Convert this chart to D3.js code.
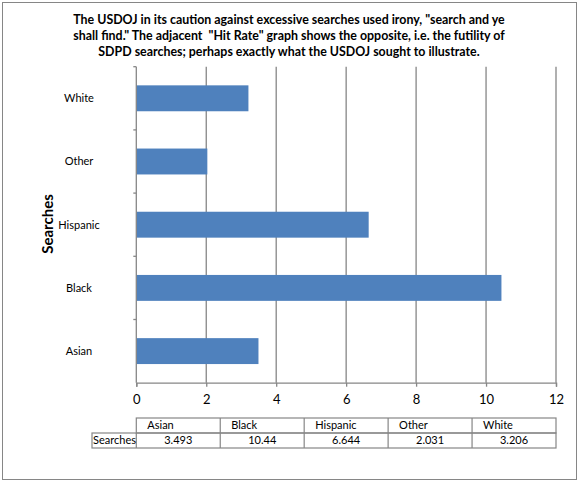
<!DOCTYPE html>
<meta charset="utf-8">
<head>
    <style>
        body { margin: 0; background: #fff; }
        text { font-family: Lato, "Open Sans", sans-serif; fill: #000; }
        .bar { fill: #4f81bd; }
        .title { white-space: pre; }
    </style>
    <script src="https://d3js.org/d3.v7.min.js"></script>
</head>
<div id="my_dataviz"></div>

<script>

// chart data
var categories = ["Asian", "Black", "Hispanic", "Other", "White"];
var searches = [3.493, 10.44, 6.644, 2.031, 3.206];
var seriesName = "Searches";
var xTicks = [0, 2, 4, 6, 8, 10, 12];
var titleLines = [
    "The USDOJ in its caution against excessive searches used irony, \"search and ye",
    "shall find.\" The adjacent  \"Hit Rate\" graph shows the opposite, i.e. the futility of",
    "SDPD searches; perhaps exactly what the USDOJ sought to illustrate."
];

var rows = categories.map(function(c, i) { return {cat: c, value: searches[i]}; });

var W = 579, H = 483;
var plot = {left: 136.3, right: 556, top: 66.7, bottom: 382.7};
var gridColor = "#868686";

var svg = d3.select("#my_dataviz")
  .append("svg")
    .attr("width", W)
    .attr("height", H);

// outer chart border
svg.append("rect")
    .attr("x", 2.5).attr("y", 2.5)
    .attr("width", 574).attr("height", 477)
    .attr("fill", "#fff")
    .attr("stroke", gridColor)
    .attr("stroke-width", 1);

var xScale = d3.scaleLinear().domain([0, 12]).range([plot.left, plot.right]);
// White on top, Asian at bottom
var slot = d3.scaleBand()
    .domain(categories.slice().reverse())
    .range([plot.top, plot.bottom])
    .padding(0);
var barH = slot.step() * 0.41;

// vertical gridlines
svg.append("g")
  .selectAll("line")
  .data(xTicks.slice(1))
  .enter().append("line")
    .attr("x1", function(d) { return xScale(d); })
    .attr("x2", function(d) { return xScale(d); })
    .attr("y1", plot.top)
    .attr("y2", plot.bottom)
    .attr("stroke", gridColor)
    .attr("stroke-width", 1.3);

// bars
svg.selectAll(".bar")
  .data(rows)
  .enter().append("rect")
    .attr("class", "bar")
    .attr("x", xScale(0))
    .attr("y", function(d) { return slot(d.cat) + (slot.step() - barH) / 2; })
    .attr("width", function(d) { return xScale(d.value) - xScale(0); })
    .attr("height", barH);

// x axis
var xAxis = svg.append("g")
    .attr("transform", "translate(0," + plot.bottom + ")")
    .call(d3.axisBottom(xScale).tickValues(xTicks).tickSize(4).tickPadding(8));
xAxis.select(".domain").attr("stroke", gridColor).attr("stroke-width", 1.3);
xAxis.selectAll(".tick line").attr("stroke", gridColor).attr("stroke-width", 1.3);
xAxis.selectAll(".tick text")
    .style("font-size", "13px")
    .style("font-family", "Lato, sans-serif")
    .attr("fill", "#000");

// y axis line with boundary ticks
var yAxis = svg.append("g");
yAxis.append("line")
    .attr("x1", plot.left).attr("x2", plot.left)
    .attr("y1", plot.top).attr("y2", plot.bottom)
    .attr("stroke", gridColor).attr("stroke-width", 1.3);
yAxis.selectAll(".ytick")
  .data(categories)
  .enter().append("line")
    .attr("class", "ytick")
    .attr("x1", plot.left - 3).attr("x2", plot.left)
    .attr("y1", function(d) { return slot(d); })
    .attr("y2", function(d) { return slot(d); })
    .attr("stroke", gridColor).attr("stroke-width", 1.3);
yAxis.selectAll(".ylab")
  .data(categories)
  .enter().append("text")
    .attr("class", "ylab")
    .attr("x", 79)
    .attr("y", function(d) { return slot(d) + slot.step() / 2; })
    .attr("dy", "0.35em")
    .attr("text-anchor", "middle")
    .style("font-size", "11px")
    .text(function(d) { return d; });

// axis title
svg.append("text")
    .attr("transform", "translate(48,224) rotate(-90)")
    .attr("text-anchor", "middle")
    .attr("dy", "0.35em")
    .style("font-size", "15px")
    .style("font-weight", "bold")
    .text(seriesName);

// chart title
svg.append("g")
  .selectAll("text")
  .data(titleLines)
  .enter().append("text")
    .attr("class", "title")
    .attr("x", 289)
    .attr("y", function(d, i) { return 24 + i * 16; })
    .attr("text-anchor", "middle")
    .style("font-size", "12.4px")
    .style("font-weight", "bold")
    .text(function(d) { return d; });

// data table
var colW = (plot.right - plot.left) / categories.length;
var tTop = 418, rowH = 15, labLeft = 92;
var table = svg.append("g")
    .attr("stroke", gridColor)
    .attr("stroke-width", 1.2);
table.append("rect")
    .attr("x", plot.left).attr("y", tTop)
    .attr("width", plot.right - plot.left).attr("height", rowH)
    .attr("fill", "none");
table.append("rect")
    .attr("x", labLeft).attr("y", tTop + rowH)
    .attr("width", plot.right - labLeft).attr("height", rowH)
    .attr("fill", "none");
table.selectAll(".sep")
  .data(categories.slice(1))
  .enter().append("line")
    .attr("x1", function(d, i) { return plot.left + (i + 1) * colW; })
    .attr("x2", function(d, i) { return plot.left + (i + 1) * colW; })
    .attr("y1", tTop).attr("y2", tTop + 2 * rowH);
table.append("line")
    .attr("x1", plot.left).attr("x2", plot.left)
    .attr("y1", tTop + rowH).attr("y2", tTop + 2 * rowH);

svg.selectAll(".thead")
  .data(categories)
  .enter().append("text")
    .attr("class", "thead")
    .attr("x", function(d, i) { return plot.left + i * colW + 11; })
    .attr("y", tTop + rowH / 2)
    .attr("dy", "0.35em")
    .style("font-size", "11px")
    .text(function(d) { return d; });

svg.selectAll(".tval")
  .data(rows)
  .enter().append("text")
    .attr("class", "tval")
    .attr("x", function(d, i) { return plot.left + i * colW + colW / 2; })
    .attr("y", tTop + rowH * 1.5)
    .attr("dy", "0.35em")
    .attr("text-anchor", "middle")
    .style("font-size", "11px")
    .text(function(d) { return d.value; });

svg.append("text")
    .attr("x", labLeft + 1)
    .attr("y", tTop + rowH * 1.5)
    .attr("dy", "0.35em")
    .style("font-size", "11px")
    .text(seriesName);

</script>
